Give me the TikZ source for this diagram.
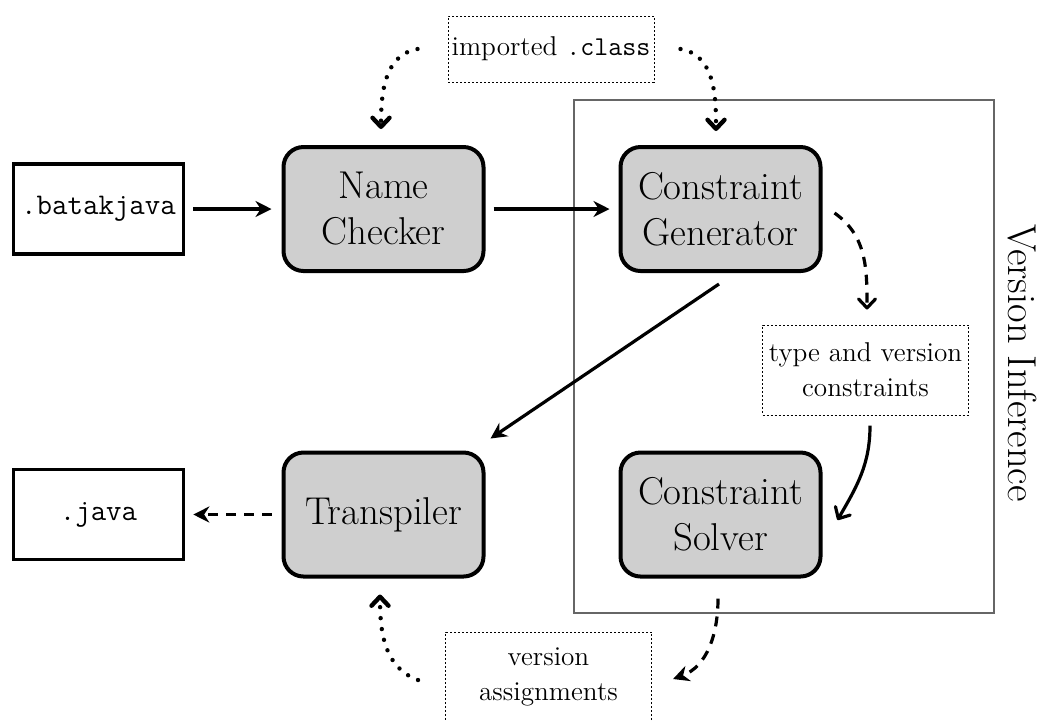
\documentclass[tikz,border=0pt]{standalone}
\usetikzlibrary{arrows.meta}
\begin{document}
\begin{tikzpicture}[x=0.5pt,y=0.5pt,
  stage/.style={draw, line width=2pt, fill=black!19, rounded corners=10pt,
    minimum width=100pt, minimum height=62pt, inner sep=0pt, align=center,
    font=\fontsize{19.4}{23}\selectfont},
  file/.style={draw, line width=1.8pt, fill=white, minimum width=85pt,
    minimum height=45pt, inner sep=0pt, font=\fontsize{15}{17}\selectfont\ttfamily},
  note/.style={draw, line width=0.5pt, dash pattern=on 1pt off 1pt,
    minimum width=103pt, minimum height=45pt, inner sep=0pt, align=center,
    font=\fontsize{13.6}{17.5}\selectfont},
  flow/.style={line width=1.6pt, -{Stealth[length=8pt,width=8pt]}},
  feed/.style={line width=1.6pt, -{Straight Barb[length=4.5pt,width=8.5pt,round]}},
  dashpath/.style={dash pattern=on 5pt off 4pt},
  dotpath/.style={line width=2.2pt, line cap=round, dash pattern=on 0pt off 5.5pt}]

\useasboundingbox (0,0) rectangle (1047,-720);

% frame of the inference phase
\node[draw=black!60, line width=1.3pt, minimum width=210pt, minimum height=256.5pt,
  inner sep=0pt] (vi) at (784,-356.5) {};
\node[rotate=-90, font=\fontsize{20.2}{24}\selectfont] (vilabel) at (1022,-363) {Version Inference};

% stages
\node[file]  (bj) at (98.5,-209)   {.batakjava};
\node[stage] (nc) at (383.5,-209)  {Name\\Checker};
\node[stage] (cg) at (720.5,-209)  {Constraint\\Generator};
\node[stage] (tr) at (383.5,-514.5) {Transpiler};
\node[stage] (cs) at (720.5,-514.5) {Constraint\\Solver};
\node[file]  (jv) at (98.5,-514.5) {.java};

% intermediate data
\node[note, minimum height=33pt] (ic) at (551,-49) {imported \texttt{.class}};
\node[note] (tv) at (865.5,-370) {type and version\\constraints};
\node[note] (va) at (548.5,-677) {version\\assignments};

% main pipeline
\draw[flow] ([xshift=4pt]bj.east) -- ([xshift=-5pt]nc.west);
\draw[flow] ([xshift=4pt]nc.east) -- ([xshift=-4.5pt]cg.west);
\draw[flow] ([xshift=-0.75pt,yshift=-5.5pt]cg.south) -- ([xshift=2.5pt,yshift=6pt]tr.north east);
\draw[flow, dashpath] ([xshift=-5pt]tr.west) -- ([xshift=4pt]jv.east);

% data exchanged inside the inference phase
\draw[feed, dashpath] ([xshift=6pt,yshift=-2pt]cg.east) to[out=-35,in=90]
  ([xshift=0.75pt,yshift=7.5pt]tv.north);
\draw[feed] ([xshift=2.25pt,yshift=-5pt]tv.south) to[out=-90,in=60]
  ([xshift=7.5pt,yshift=-2.75pt]cs.east);
\draw[flow, dashpath] ([xshift=-1.25pt,yshift=-10pt]cs.south) to[out=-90,in=20]
  ([xshift=10.5pt,yshift=-1pt]va.east);

% inputs read from outside
\draw[feed, dotpath] ([xshift=-13.5pt,yshift=-1.5pt]va.west) to[out=160,in=-90]
  ([xshift=-1.75pt,yshift=-8pt]tr.south);
\draw[feed, dotpath] ([xshift=-15pt]ic.west) to[out=190,in=90]
  ([xshift=-1.25pt,yshift=8pt]nc.north);
\draw[feed, dotpath] ([xshift=13pt]ic.east) to[out=-10,in=90]
  ([xshift=-2.25pt,yshift=7pt]cg.north);
\end{tikzpicture}
\end{document}
